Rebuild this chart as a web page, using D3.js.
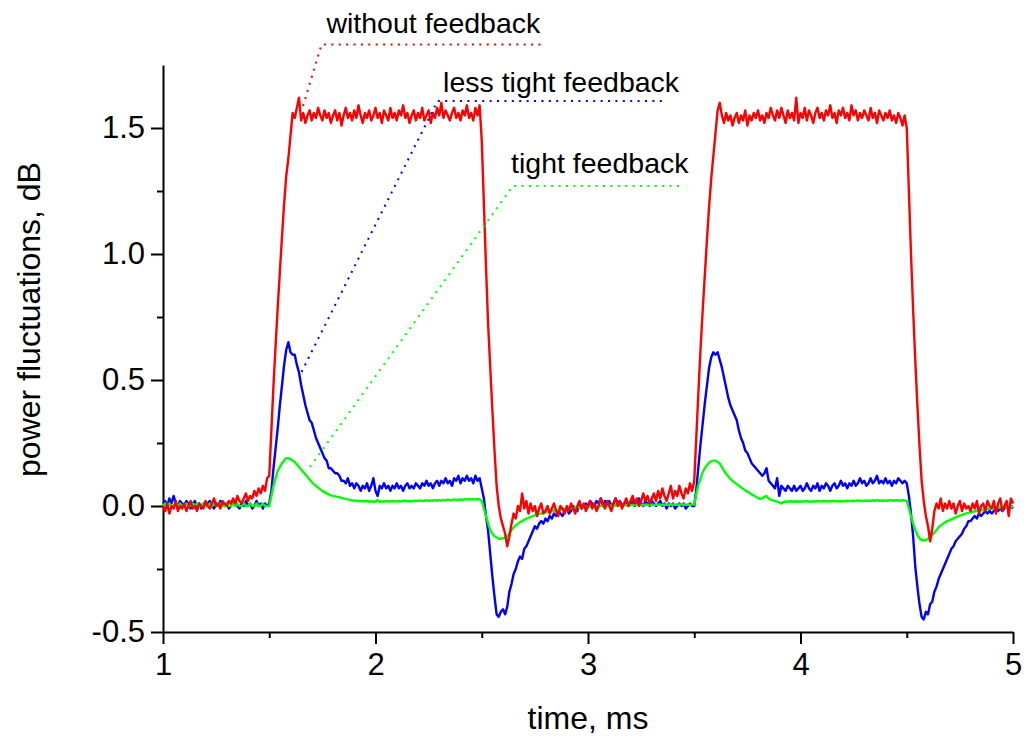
<!DOCTYPE html>
<html>
<head>
<meta charset="utf-8">
<script src="https://cdn.jsdelivr.net/npm/d3@7"></script>
<style>
  html, body { margin: 0; padding: 0; background: #ffffff; }
  svg { display: block; font-family: "Liberation Sans", Arial, sans-serif; }
</style>
</head>
<body>
<svg id="chart" width="1026" height="740"></svg>
<script>
// Sampling grid of the oscilloscope traces: 1.00 ms .. 5.00 ms, 0.01 ms step
const sampleStep = 0.01;
const time = d3.range(401).map(i => +(1 + i * sampleStep).toFixed(2));

// Power fluctuations (dB) without feedback
const withoutFeedback = [
  0.00, -0.02, 0.01, -0.03, 0.00, -0.01, 0.02, -0.02, 0.00, -0.01,
  0.01, -0.02, 0.00, 0.02, -0.01, 0.00, -0.02, 0.01, 0.00, -0.01,
  0.02, 0.00, -0.01, 0.01, 0.03, 0.00, 0.01, -0.01, 0.02, 0.01,
  0.00, 0.02, 0.01, 0.03, 0.01, 0.04, 0.02, 0.01, 0.03, 0.05,
  0.02, 0.04, 0.03, 0.06, 0.04, 0.07, 0.05, 0.08, 0.06, 0.11,
  0.12, 0.30, 0.48, 0.64, 0.79, 0.93, 1.07, 1.20, 1.31, 1.38,
  1.47, 1.56, 1.54, 1.58, 1.62, 1.53, 1.56, 1.52, 1.55, 1.57,
  1.53, 1.56, 1.54, 1.58, 1.55, 1.53, 1.57, 1.54, 1.56, 1.52,
  1.55, 1.57, 1.53, 1.56, 1.51, 1.55, 1.58, 1.54, 1.56, 1.53,
  1.57, 1.54, 1.59, 1.55, 1.52, 1.56, 1.54, 1.57, 1.53, 1.55,
  1.58, 1.54, 1.56, 1.52, 1.57, 1.55, 1.53, 1.58, 1.54, 1.56,
  1.53, 1.57, 1.55, 1.59, 1.54, 1.56, 1.52, 1.55, 1.57, 1.53,
  1.56, 1.54, 1.58, 1.53, 1.55, 1.57, 1.52, 1.56, 1.54, 1.58,
  1.55, 1.60, 1.54, 1.57, 1.55, 1.53, 1.56, 1.58, 1.54, 1.56,
  1.53, 1.57, 1.55, 1.59, 1.54, 1.56, 1.53, 1.58, 1.55, 1.59,
  1.45, 1.20, 0.95, 0.72, 0.55, 0.38, 0.22, 0.08, 0.00, -0.05,
  -0.08, -0.11, -0.16, -0.12, -0.07, -0.03, -0.05, 0.00, -0.02, 0.05,
  -0.01, 0.02, -0.03, 0.01, -0.02, 0.00, -0.04, -0.01, 0.01, -0.03,
  -0.02, 0.00, -0.03, -0.01, 0.01, -0.02, -0.04, 0.00, -0.01, -0.03,
  0.00, -0.02, 0.01, -0.01, -0.03, 0.00, 0.02, -0.01, 0.01, -0.02,
  0.00, 0.02, -0.01, 0.01, -0.02, 0.00, 0.03, 0.01, -0.01, 0.02,
  0.00, -0.02, 0.01, 0.03, 0.00, 0.02, -0.01, 0.01, 0.03, 0.00,
  0.02, 0.04, 0.01, 0.03, 0.00, 0.02, 0.05, 0.02, 0.04, 0.01,
  0.03, 0.05, 0.02, 0.06, 0.03, 0.07, 0.04, 0.02, 0.05, 0.08,
  0.03, 0.06, 0.04, 0.08, 0.05, 0.03, 0.07, 0.05, 0.09, 0.06,
  0.10, 0.28, 0.46, 0.63, 0.78, 0.92, 1.06, 1.19, 1.30, 1.39,
  1.48, 1.57, 1.60, 1.55, 1.52, 1.56, 1.53, 1.55, 1.51, 1.54,
  1.56, 1.52, 1.55, 1.53, 1.57, 1.51, 1.55, 1.53, 1.56, 1.54,
  1.57, 1.53, 1.55, 1.52, 1.56, 1.54, 1.58, 1.55, 1.53, 1.57,
  1.54, 1.58, 1.55, 1.52, 1.57, 1.54, 1.56, 1.53, 1.62, 1.52,
  1.56, 1.54, 1.58, 1.53, 1.57, 1.55, 1.52, 1.56, 1.58, 1.54,
  1.56, 1.53, 1.57, 1.55, 1.59, 1.54, 1.56, 1.52, 1.57, 1.55,
  1.58, 1.54, 1.56, 1.53, 1.59, 1.55, 1.57, 1.53, 1.56, 1.54,
  1.57, 1.55, 1.53, 1.58, 1.54, 1.56, 1.52, 1.57, 1.55, 1.53,
  1.56, 1.54, 1.57, 1.53, 1.55, 1.52, 1.56, 1.54, 1.51, 1.55,
  1.50, 1.25, 1.00, 0.78, 0.58, 0.40, 0.24, 0.10, 0.02, -0.04,
  -0.08, -0.14, -0.09, -0.02, 0.01, -0.01, 0.03, -0.02, 0.01, -0.01,
  0.02, -0.01, 0.01, -0.03, 0.00, 0.02, -0.02, 0.01, -0.01, 0.00,
  -0.02, 0.01, -0.01, 0.02, -0.03, 0.00, 0.01, -0.02, 0.02, 0.00,
  -0.01, 0.02, -0.03, 0.01, 0.03, -0.02, 0.00, 0.02, -0.04, 0.03,
  0.01
];

// Power fluctuations (dB) with less tight feedback
const lessTightFeedback = [
  0.01, 0.02, 0.00, 0.03, 0.01, 0.04, 0.01, 0.00, 0.02, 0.01,
  0.00, 0.02, 0.01, -0.01, 0.01, 0.02, 0.00, 0.01, -0.01, 0.01,
  0.00, 0.01, 0.02, 0.00, -0.01, 0.01, 0.00, 0.02, 0.01, 0.00,
  0.01, -0.01, 0.00, 0.02, 0.01, 0.00, -0.01, 0.01, 0.00, 0.02,
  0.00, 0.01, -0.01, 0.00, 0.02, 0.00, 0.01, -0.01, 0.01, 0.00,
  0.01, 0.06, 0.15, 0.23, 0.31, 0.40, 0.48, 0.56, 0.62, 0.65,
  0.61, 0.60, 0.60, 0.56, 0.53, 0.48, 0.44, 0.40, 0.37, 0.34,
  0.33, 0.30, 0.27, 0.25, 0.23, 0.21, 0.19, 0.18, 0.15, 0.15,
  0.14, 0.13, 0.13, 0.12, 0.10, 0.10, 0.09, 0.11, 0.08, 0.09,
  0.07, 0.09, 0.08, 0.06, 0.08, 0.07, 0.09, 0.06, 0.08, 0.11,
  0.06, 0.04, 0.08, 0.07, 0.09, 0.07, 0.08, 0.06, 0.08, 0.07,
  0.09, 0.07, 0.08, 0.06, 0.08, 0.09, 0.07, 0.08, 0.07, 0.09,
  0.08, 0.07, 0.09, 0.08, 0.10, 0.08, 0.09, 0.07, 0.09, 0.10,
  0.08, 0.10, 0.09, 0.11, 0.09, 0.10, 0.08, 0.11, 0.10, 0.12,
  0.09, 0.11, 0.10, 0.12, 0.10, 0.11, 0.09, 0.12, 0.10, 0.11,
  0.07, 0.03, -0.04, -0.10, -0.19, -0.28, -0.36, -0.43, -0.44, -0.42,
  -0.41, -0.43, -0.40, -0.34, -0.31, -0.27, -0.25, -0.22, -0.20, -0.21,
  -0.17, -0.16, -0.14, -0.12, -0.10, -0.08, -0.09, -0.07, -0.06, -0.07,
  -0.05, -0.06, -0.04, -0.05, -0.03, -0.04, -0.02, -0.03, -0.04, -0.02,
  -0.01, -0.03, -0.02, 0.00, -0.01, -0.02, 0.01, -0.01, 0.00, 0.01,
  0.00, 0.02, 0.01, 0.00, 0.02, 0.01, 0.03, 0.00, 0.02, 0.01,
  0.02, 0.00, 0.01, 0.03, 0.01, 0.02, 0.00, 0.01, 0.02, 0.00,
  0.01, 0.02, 0.00, 0.01, 0.03, 0.01, 0.00, 0.02, 0.01, 0.00,
  0.02, 0.01, 0.00, 0.01, 0.02, 0.00, 0.01, -0.01, 0.01, 0.00,
  0.01, -0.01, 0.00, 0.01, 0.00, 0.01, -0.01, 0.00, 0.01, 0.00,
  0.00, 0.07, 0.16, 0.25, 0.33, 0.41, 0.48, 0.55, 0.59, 0.61,
  0.60, 0.61, 0.58, 0.55, 0.51, 0.47, 0.43, 0.40, 0.38, 0.36,
  0.34, 0.30, 0.27, 0.25, 0.22, 0.21, 0.19, 0.17, 0.16, 0.15,
  0.14, 0.13, 0.12, 0.13, 0.15, 0.10, 0.09, 0.08, 0.07, 0.11,
  0.04, 0.08, 0.07, 0.06, 0.08, 0.07, 0.06, 0.08, 0.06, 0.07,
  0.08, 0.06, 0.07, 0.09, 0.07, 0.06, 0.08, 0.07, 0.09, 0.06,
  0.08, 0.07, 0.09, 0.08, 0.06, 0.08, 0.09, 0.07, 0.08, 0.10,
  0.08, 0.09, 0.07, 0.09, 0.08, 0.10, 0.08, 0.09, 0.11, 0.09,
  0.10, 0.08, 0.09, 0.11, 0.09, 0.10, 0.12, 0.09, 0.10, 0.09,
  0.11, 0.09, 0.10, 0.08, 0.10, 0.09, 0.11, 0.10, 0.09, 0.10,
  0.09, 0.04, -0.03, -0.12, -0.24, -0.32, -0.39, -0.44, -0.45, -0.42,
  -0.43, -0.39, -0.38, -0.34, -0.32, -0.29, -0.27, -0.25, -0.23, -0.21,
  -0.19, -0.17, -0.16, -0.14, -0.13, -0.12, -0.11, -0.09, -0.08, -0.06,
  -0.06, -0.05, -0.04, -0.05, -0.03, -0.04, -0.03, -0.02, -0.03, -0.02,
  -0.03, -0.02, -0.01, -0.02, -0.01, -0.02, -0.01, 0.00, -0.01, 0.00,
  -0.01
];

// Power fluctuations (dB) with tight feedback
const tightFeedback = [
  0.000, 0.010, 0.000, 0.010, 0.000, 0.000, 0.010, 0.000, 0.010, 0.000,
  0.000, 0.010, 0.000, 0.000, 0.010, 0.000, 0.010, 0.000, 0.000, 0.010,
  0.000, 0.000, 0.010, 0.000, 0.010, 0.000, 0.000, 0.010, 0.000, 0.000,
  0.010, 0.000, 0.000, 0.010, 0.000, 0.010, 0.000, 0.000, 0.010, 0.000,
  0.000, 0.010, 0.000, 0.000, 0.010, 0.000, 0.000, 0.010, 0.000, 0.000,
  0.000, 0.040, 0.080, 0.110, 0.140, 0.155, 0.170, 0.180, 0.190, 0.190,
  0.185, 0.180, 0.175, 0.165, 0.155, 0.145, 0.135, 0.125, 0.115, 0.105,
  0.095, 0.087, 0.080, 0.073, 0.066, 0.060, 0.055, 0.050, 0.046, 0.042,
  0.040, 0.038, 0.036, 0.035, 0.032, 0.030, 0.028, 0.026, 0.024, 0.022,
  0.022, 0.020, 0.021, 0.019, 0.020, 0.018, 0.020, 0.017, 0.019, 0.016,
  0.018, 0.024, 0.017, 0.019, 0.018, 0.020, 0.017, 0.019, 0.020, 0.018,
  0.019, 0.020, 0.018, 0.020, 0.021, 0.019, 0.020, 0.018, 0.021, 0.020,
  0.020, 0.022, 0.020, 0.021, 0.023, 0.020, 0.022, 0.021, 0.023, 0.022,
  0.023, 0.021, 0.024, 0.022, 0.025, 0.023, 0.024, 0.026, 0.023, 0.025,
  0.026, 0.024, 0.027, 0.025, 0.028, 0.026, 0.027, 0.025, 0.028, 0.026,
  0.020, -0.010, -0.040, -0.070, -0.095, -0.110, -0.120, -0.125, -0.130, -0.130,
  -0.128, -0.125, -0.120, -0.110, -0.095, -0.085, -0.078, -0.070, -0.064, -0.060,
  -0.055, -0.050, -0.047, -0.043, -0.040, -0.037, -0.034, -0.031, -0.029, -0.027,
  -0.025, -0.023, -0.022, -0.020, -0.018, -0.017, -0.015, -0.014, -0.013, -0.012,
  -0.011, -0.010, -0.009, -0.008, -0.007, -0.006, -0.006, -0.005, -0.004, -0.004,
  -0.003, -0.002, -0.002, -0.001, 0.000, -0.001, 0.000, 0.001, 0.000, 0.001,
  0.002, 0.001, 0.002, 0.003, 0.002, 0.003, 0.002, 0.003, 0.004, 0.003,
  0.004, 0.003, 0.004, 0.005, 0.004, 0.003, 0.005, 0.004, 0.005, 0.004,
  0.005, 0.004, 0.005, 0.006, 0.005, 0.004, 0.006, 0.005, 0.006, 0.005,
  0.006, 0.005, 0.006, 0.005, 0.007, 0.006, 0.005, 0.006, 0.005, 0.006,
  0.006, 0.050, 0.085, 0.110, 0.135, 0.150, 0.162, 0.172, 0.178, 0.180,
  0.180, 0.175, 0.168, 0.155, 0.140, 0.128, 0.117, 0.107, 0.100, 0.093,
  0.087, 0.080, 0.074, 0.068, 0.062, 0.057, 0.052, 0.046, 0.042, 0.037,
  0.032, 0.028, 0.030, 0.036, 0.040, 0.030, 0.025, 0.022, 0.020, 0.018,
  0.014, 0.010, 0.016, 0.018, 0.017, 0.019, 0.018, 0.017, 0.019, 0.018,
  0.017, 0.019, 0.018, 0.020, 0.018, 0.017, 0.019, 0.018, 0.020, 0.019,
  0.018, 0.020, 0.019, 0.018, 0.020, 0.019, 0.021, 0.019, 0.020, 0.018,
  0.020, 0.019, 0.021, 0.020, 0.019, 0.021, 0.020, 0.022, 0.020, 0.021,
  0.020, 0.022, 0.021, 0.020, 0.022, 0.021, 0.023, 0.021, 0.022, 0.020,
  0.022, 0.021, 0.023, 0.022, 0.021, 0.023, 0.022, 0.021, 0.023, 0.022,
  0.020, -0.010, -0.040, -0.070, -0.095, -0.115, -0.128, -0.135, -0.137, -0.135,
  -0.130, -0.125, -0.115, -0.105, -0.095, -0.085, -0.078, -0.071, -0.065, -0.060,
  -0.057, -0.053, -0.049, -0.045, -0.041, -0.038, -0.035, -0.032, -0.029, -0.027,
  -0.025, -0.023, -0.021, -0.019, -0.018, -0.016, -0.015, -0.013, -0.012, -0.011,
  -0.010, -0.009, -0.008, -0.007, -0.006, -0.005, -0.005, -0.004, -0.003, -0.003,
  -0.002
];

// Axis ticks
const xMajorTicks = [1, 2, 3, 4, 5];
const xMinorTicks = [1.5, 2.5, 3.5, 4.5];
const yMajorTicks = [-0.5, 0.0, 0.5, 1.0, 1.5];
const yMinorTicks = [-0.25, 0.25, 0.75, 1.25];

// Traces drawn bottom to top
const seriesNames = ["less tight feedback", "tight feedback", "without feedback"];
const seriesValues = [lessTightFeedback, tightFeedback, withoutFeedback];
const seriesColors = ["#0000ff", "#00ff00", "#ff0000"];

// Leader lines for the labels, in data units: [tip, elbow, end]
const labelTexts = ["without feedback", "less tight feedback", "tight feedback"];
const labelColors = ["#ff0000", "#0000ff", "#00ff00"];
const labelLeaders = [
  [[1.659, 1.587], [1.746, 1.831], [2.784, 1.831]],
  [[1.652, 0.532], [2.292, 1.607], [3.372, 1.607]],
  [[1.692, 0.155], [2.647, 1.270], [3.449, 1.270]]
];
const labelAnchors = [[1.769, 1.877], [2.318, 1.643], [2.638, 1.320]];

const svg = d3.select("#chart");

const x = d3.scaleLinear().domain([1, 5]).range([163, 1013]);
const y = d3.scaleLinear().domain([-0.5, 1.75]).range([632, 65]);

const fontTick = 31;

// Minor ticks
svg.append("g")
  .attr("transform", `translate(0,${y(-0.5)})`)
  .call(d3.axisBottom(x).tickValues(xMinorTicks).tickSize(6).tickFormat(""))
  .call(g => g.select(".domain").remove());
svg.append("g")
  .attr("transform", `translate(${x(1)},0)`)
  .call(d3.axisLeft(y).tickValues(yMinorTicks).tickSize(6).tickFormat(""))
  .call(g => g.select(".domain").remove());

// Major axes
const xAxis = svg.append("g")
  .attr("transform", `translate(0,${y(-0.5)})`)
  .call(d3.axisBottom(x).tickValues(xMajorTicks).tickSize(12).tickSizeOuter(0)
    .tickPadding(9).tickFormat(d => String(d)));
const yAxis = svg.append("g")
  .attr("transform", `translate(${x(1)},0)`)
  .call(d3.axisLeft(y).tickValues(yMajorTicks).tickSize(12).tickSizeOuter(0)
    .tickPadding(6).tickFormat(d => d.toFixed(1)));

svg.selectAll(".tick line, .domain")
  .attr("stroke", "#000")
  .attr("stroke-width", 2);
[xAxis, yAxis].forEach(g => g.selectAll("text")
  .attr("fill", "#000")
  .style("font-family", '"Liberation Sans", Arial, sans-serif')
  .style("font-size", fontTick + "px"));

// Axis titles
svg.append("text")
  .attr("x", (x(1) + x(5)) / 2)
  .attr("y", 729)
  .attr("text-anchor", "middle")
  .style("font-size", "32px")
  .attr("fill", "#000")
  .text("time, ms");

svg.append("text")
  .attr("transform", `translate(40,${y(0.74)}) rotate(-90)`)
  .attr("text-anchor", "middle")
  .style("font-size", "32px")
  .attr("fill", "#000")
  .text("power fluctuations, dB");

// Traces
const line = d3.line()
  .x((d, i) => x(time[i]))
  .y(d => y(d));

svg.append("g")
  .selectAll("path")
  .data(seriesValues)
  .join("path")
  .attr("fill", "none")
  .attr("stroke", (d, i) => seriesColors[i])
  .attr("stroke-width", 2.4)
  .attr("stroke-linejoin", "round")
  .attr("d", line)
  .append("title")
  .text((d, i) => seriesNames[i]);

// Labels with dotted leaders
const leader = d3.line().x(p => x(p[0])).y(p => y(p[1]));
const labels = svg.append("g");
labelLeaders.forEach((pts, i) => {
  labels.append("path")
    .attr("d", leader(pts))
    .attr("fill", "none")
    .attr("stroke", labelColors[i])
    .attr("stroke-width", 2)
    .attr("stroke-dasharray", "2,5.4");
  labels.append("text")
    .attr("x", x(labelAnchors[i][0]))
    .attr("y", y(labelAnchors[i][1]))
    .style("font-size", "28.5px")
    .attr("fill", "#000")
    .text(labelTexts[i]);
});
</script>
</body>
</html>
